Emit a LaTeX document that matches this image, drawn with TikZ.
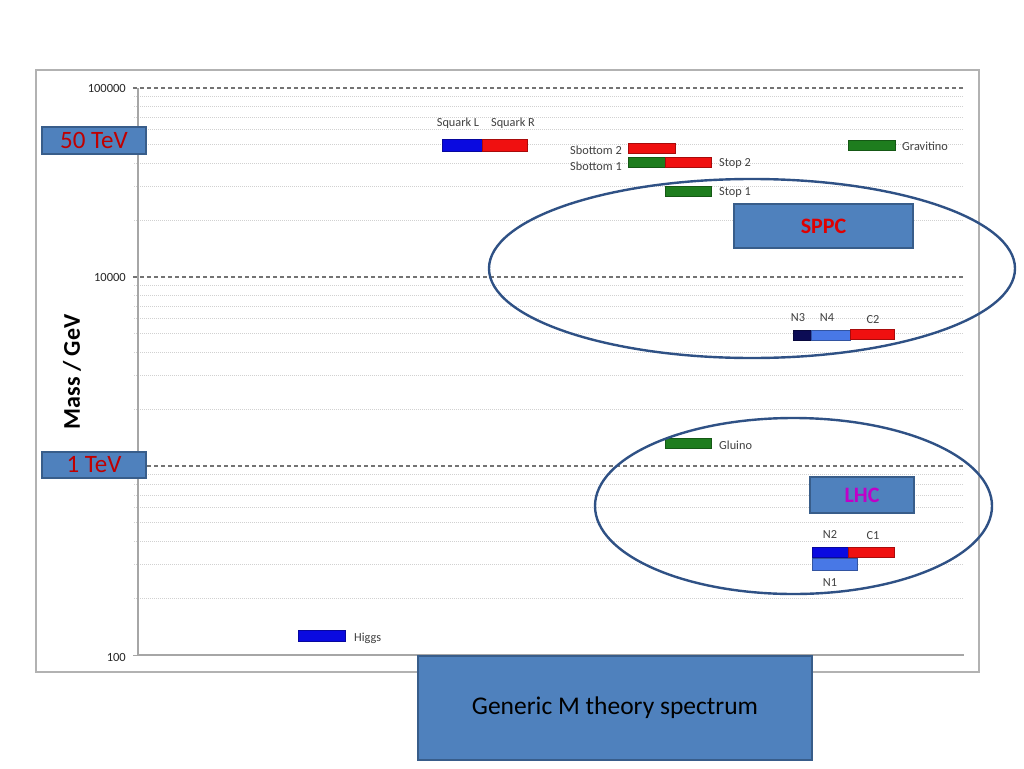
\documentclass[tikz,border=0pt]{standalone}
\usepackage{fontspec}
\setmainfont{Carlito}
\begin{document}
\begin{tikzpicture}[x=1pt,y=-1pt,
  bar/.style={draw=#1!70!black, line width=0.6pt, fill=#1, inner sep=0pt, outer sep=0pt, minimum height=10pt, anchor=west},
  lbl/.style={text=black!75, font=\fontsize{12.3}{14}\selectfont, inner sep=1pt},
  axlbl/.style={text=black!85, font=\fontsize{12.5}{14}\selectfont, inner sep=1pt, anchor=east},
  bluebox/.style={draw=boxedge, line width=1.2pt, fill=boxfill, inner sep=0pt, outer sep=0pt},
  oval/.style={draw=ovalcol, line width=2.4pt},
  major/.style={draw=black!55, line width=1.5pt, dash pattern=on 4pt off 3pt},
  minor/.style={draw=black!18, line width=1.1pt, dash pattern=on 1pt off 1pt}
]
\definecolor{boxfill}{HTML}{4F81BD}
\definecolor{boxedge}{HTML}{385D8A}
\definecolor{ovalcol}{HTML}{2F5185}
\definecolor{barblue}{HTML}{0A0AE0}
\definecolor{barred}{HTML}{F01010}
\definecolor{bargreen}{HTML}{1E7D1E}
\definecolor{barnavy}{HTML}{0C0C55}
\definecolor{barlight}{HTML}{4878E6}
\definecolor{tevred}{HTML}{C00000}
\definecolor{sppcred}{HTML}{E00000}
\definecolor{lhcmag}{HTML}{C000C8}

\useasboundingbox (0,0) rectangle (1024,768);
\fill[white] (0,0) rectangle (1024,768);

% outer chart frame
\draw[black!30, line width=1.3pt] (36,70) rectangle (979,672);

% gridlines
\foreach \base in {655,466,277} {
  \foreach \k in {2,...,9} {
    \pgfmathsetmacro{\yy}{\base-189*log10(\k)}
    \draw[minor] (134,\yy) -- (964,\yy);
  }
}
\foreach \yy in {88,277,466} {
  \draw[major] (133,\yy) -- (964,\yy);
}
% axes
\draw[black!35, line width=1.2pt] (138,88) -- (138,655) -- (964,655);
\draw[black!35, line width=1pt] (133,655) -- (138,655);

% axis labels
\node[axlbl] (a100k) at (127,88) {100000};
\node[axlbl] (a10k) at (127,277) {10000};
\node[axlbl] (a100) at (127,657) {100};
\node[rotate=90, font=\bfseries\fontsize{24}{28}\selectfont] (ytitle) at (72,372) {Mass / GeV};

% bars
\node[bar=barblue, minimum width=40pt, minimum height=12pt] (sqL) at (442,145) {};
\node[bar=barred, minimum width=45pt, minimum height=12pt] (sqR) at (482,145) {};
\node[bar=barred, minimum width=47pt] (sb2) at (628,148) {};
\node[bar=bargreen, minimum width=37pt] (sb1) at (628,162) {};
\node[bar=barred, minimum width=46pt] (st2) at (665,162) {};
\node[bar=bargreen, minimum width=46pt] (st1) at (665,191) {};
\node[bar=bargreen, minimum width=47pt] (grav) at (848,145) {};
\node[bar=barnavy, minimum width=18pt] (n3) at (793,335) {};
\node[bar=barlight, minimum width=39pt] (n4) at (811,335) {};
\node[bar=barred, minimum width=44pt] (c2) at (850,334) {};
\node[bar=barblue, minimum width=36pt] (n2) at (812,552) {};
\node[bar=barred, minimum width=46pt] (c1) at (848,552) {};
\node[bar=barlight, minimum width=45pt, minimum height=12pt] (n1) at (812,564) {};
\node[bar=bargreen, minimum width=46pt] (glu) at (665,443.5) {};
\node[bar=barblue, minimum width=47pt, minimum height=11pt] (hig) at (298,635.5) {};

% bar labels
\node[lbl] (lsqL) at (458,123) {Squark L};
\node[lbl] (lsqR) at (513,123) {Squark R};
\node[lbl, anchor=east] (lsb2) at (623,150) {Sbottom 2};
\node[lbl, anchor=east] (lsb1) at (623,166) {Sbottom 1};
\node[lbl, anchor=west] (lst2) at (718,163) {Stop 2};
\node[lbl, anchor=west] (lst1) at (718,192) {Stop 1};
\node[lbl, anchor=west] (lgrav) at (901,146) {Gravitino};
\node[lbl] (ln3) at (798,318) {N3};
\node[lbl] (ln4) at (827,318) {N4};
\node[lbl] (lc2) at (873,320) {C2};
\node[lbl] (ln2) at (830,535) {N2};
\node[lbl] (lc1) at (873,536) {C1};
\node[lbl] (ln1) at (830,583) {N1};
\node[lbl, anchor=west] (lglu) at (718,445) {Gluino};
\node[lbl, anchor=west] (lhig) at (353,638) {Higgs};

% ellipses
\coordinate (sppcc) at (752,268.5);
\coordinate (lhcc) at (793.5,506);
\draw[oval] (sppcc) ellipse [x radius=263, y radius=89.5];
\draw[oval] (lhcc) ellipse [x radius=198.5, y radius=88];

% boxes
\node[bluebox, minimum width=104pt, minimum height=27pt, text=tevred, font=\fontsize{25}{28}\selectfont] (b50) at (94,140.5) {50 TeV};
\node[bluebox, minimum width=104pt, minimum height=26pt, text=tevred, font=\fontsize{25}{28}\selectfont] (b1) at (94,465) {1 TeV};
\node[bluebox, minimum width=179pt, minimum height=44pt, text=sppcred, font=\bfseries\fontsize{22}{26}\selectfont] (bsppc) at (823.5,226) {SPPC};
\node[bluebox, minimum width=104pt, minimum height=36pt, text=lhcmag, font=\bfseries\fontsize{22}{26}\selectfont] (blhc) at (862,495) {LHC};
\node[bluebox, minimum width=394pt, minimum height=104pt, text=black, font=\fontsize{25.5}{28}\selectfont] (btitle) at (615,708) {Generic M theory spectrum};
\end{tikzpicture}
\end{document}
